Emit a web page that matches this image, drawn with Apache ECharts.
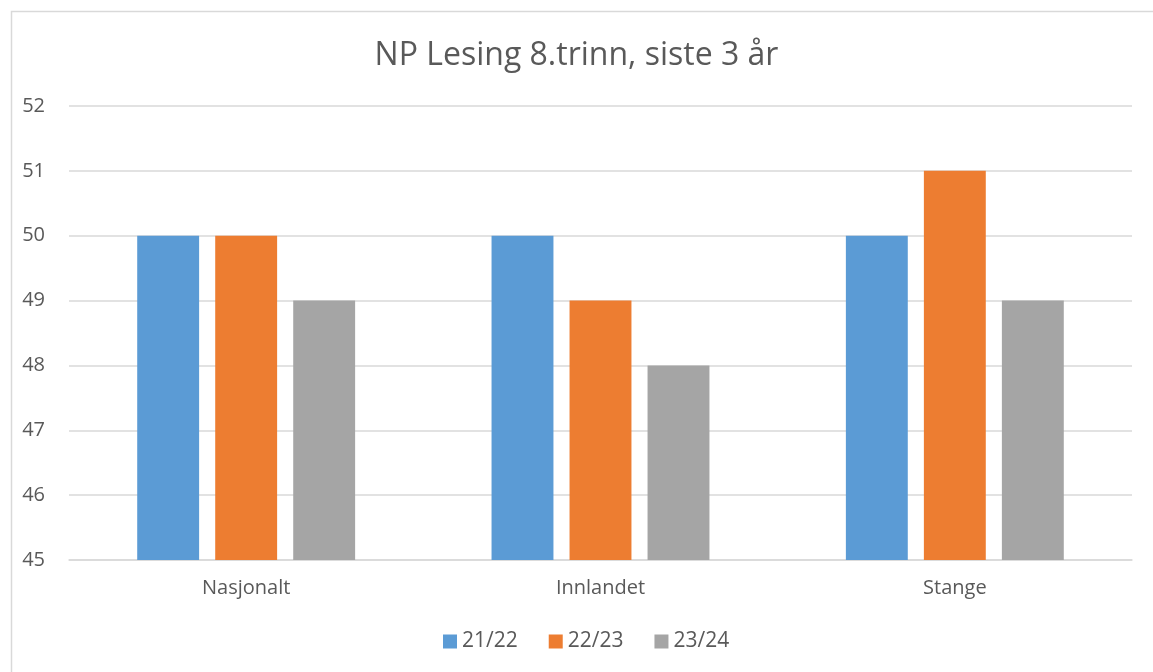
<!DOCTYPE html>
<html>
<head>
<meta charset="utf-8">
<script src="https://cdn.jsdelivr.net/npm/echarts@6/dist/echarts.min.js"></script>
<style>
  html, body { margin: 0; padding: 0; background: #fff; }
  #main { width: 1153px; height: 672px; }
</style>
</head>
<body>
<div id="main"></div>
<script>
var categories = ['Nasjonalt', 'Innlandet', 'Stange'];
var seriesNames = ['21/22', '22/23', '23/24'];
var values2122 = [50, 50, 50];
var values2223 = [50, 49, 51];
var values2324 = [49, 48, 49];
var colors = ['#5B9BD5', '#ED7D31', '#A5A5A5'];

var myChart = echarts.init(document.getElementById('main'));

var textFont = '"Open Sans", "Noto Sans", sans-serif';

function bar(name, data, color) {
    return {
        name: name,
        type: 'bar',
        data: data,
        itemStyle: { color: color },
        barGap: '26%',
        barCategoryGap: '38.5%'
    };
}

var option = {
    animation: false,
    color: colors,
    title: {
        text: 'NP Lesing 8.trinn, siste 3 år',
        left: 'center',
        top: 35,
        textStyle: { fontFamily: textFont, fontSize: 32, fontWeight: 'normal', color: '#595959' }
    },
    graphic: [{
        type: 'rect',
        left: 9, top: 9,
        shape: { width: 1170, height: 700 },
        style: { fill: 'none', stroke: '#D9D9D9', lineWidth: 1.5 },
        silent: true
    }],
    legend: {
        data: seriesNames,
        bottom: 15,
        left: 438,
        itemWidth: 14,
        itemHeight: 14,
        itemGap: 31,
        icon: 'rect',
        textStyle: { fontFamily: textFont, fontSize: 21, color: '#595959' }
    },
    grid: {
        left: 69,
        right: 21,
        top: 106,
        bottom: 112
    },
    xAxis: {
        type: 'category',
        data: categories,
        axisLine: { show: true, lineStyle: { color: '#D9D9D9', width: 1.5 } },
        axisTick: { show: false },
        axisLabel: { fontFamily: textFont, fontSize: 20, color: '#595959', margin: 18 }
    },
    yAxis: {
        type: 'value',
        min: 45,
        max: 52,
        interval: 1,
        axisLine: { show: false },
        axisTick: { show: false },
        splitLine: { lineStyle: { color: '#D9D9D9', width: 1.5 } },
        axisLabel: { fontFamily: textFont, fontSize: 20, color: '#595959', margin: 24 }
    },
    series: [
        bar(seriesNames[0], values2122, colors[0]),
        bar(seriesNames[1], values2223, colors[1]),
        bar(seriesNames[2], values2324, colors[2])
    ]
};

myChart.setOption(option);
</script>
</body>
</html>
